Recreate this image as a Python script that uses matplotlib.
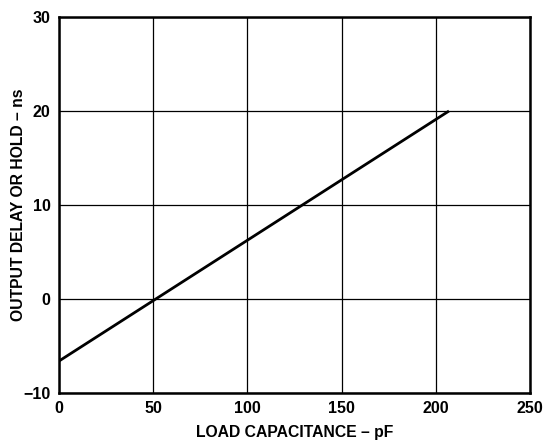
import matplotlib
matplotlib.use("Agg")
import matplotlib.pyplot as plt

plt.rcParams['font.family'] = ['Liberation Sans', 'DejaVu Sans']

load_pf = [0, 207]
delay_ns = [-6.6, 20]
x_ticks = [0, 50, 100, 150, 200, 250]
y_ticks = [-10, 0, 10, 20, 30]
y_tick_labels = ['\u221210', '0', '10', '20', '30']

fig = plt.figure(figsize=(5.43, 4.42), dpi=100)
ax = fig.add_axes([0.1087, 0.1109, 0.976 - 0.1087, 0.9615 - 0.1109])
ax.plot(load_pf, delay_ns, color='black', lw=2.0, solid_capstyle='butt')
ax.set_xlim(0, 250)
ax.set_ylim(-10, 30)
ax.set_xticks(x_ticks)
ax.set_yticks(y_ticks)
ax.set_yticklabels(y_tick_labels)
ax.grid(True, color='black', lw=0.9)
ax.set_axisbelow(True)
for s in ax.spines.values():
    s.set_linewidth(1.8)
ax.tick_params(length=0, pad=6, labelsize=11.5)
for lbl in ax.get_xticklabels() + ax.get_yticklabels():
    lbl.set_fontweight('bold')
ax.set_xlabel('LOAD CAPACITANCE \u2013 pF', fontsize=11.3, fontweight='bold')
ax.set_ylabel('OUTPUT DELAY OR HOLD \u2013 ns', fontsize=11.3, fontweight='bold')
ax.xaxis.set_label_coords(0.5, -0.104)
ax.yaxis.set_label_coords(-0.087, 0.5)
ax.xaxis.label.set_va('center')
ax.yaxis.label.set_va('center')
fig.savefig('out.png', dpi=100)
